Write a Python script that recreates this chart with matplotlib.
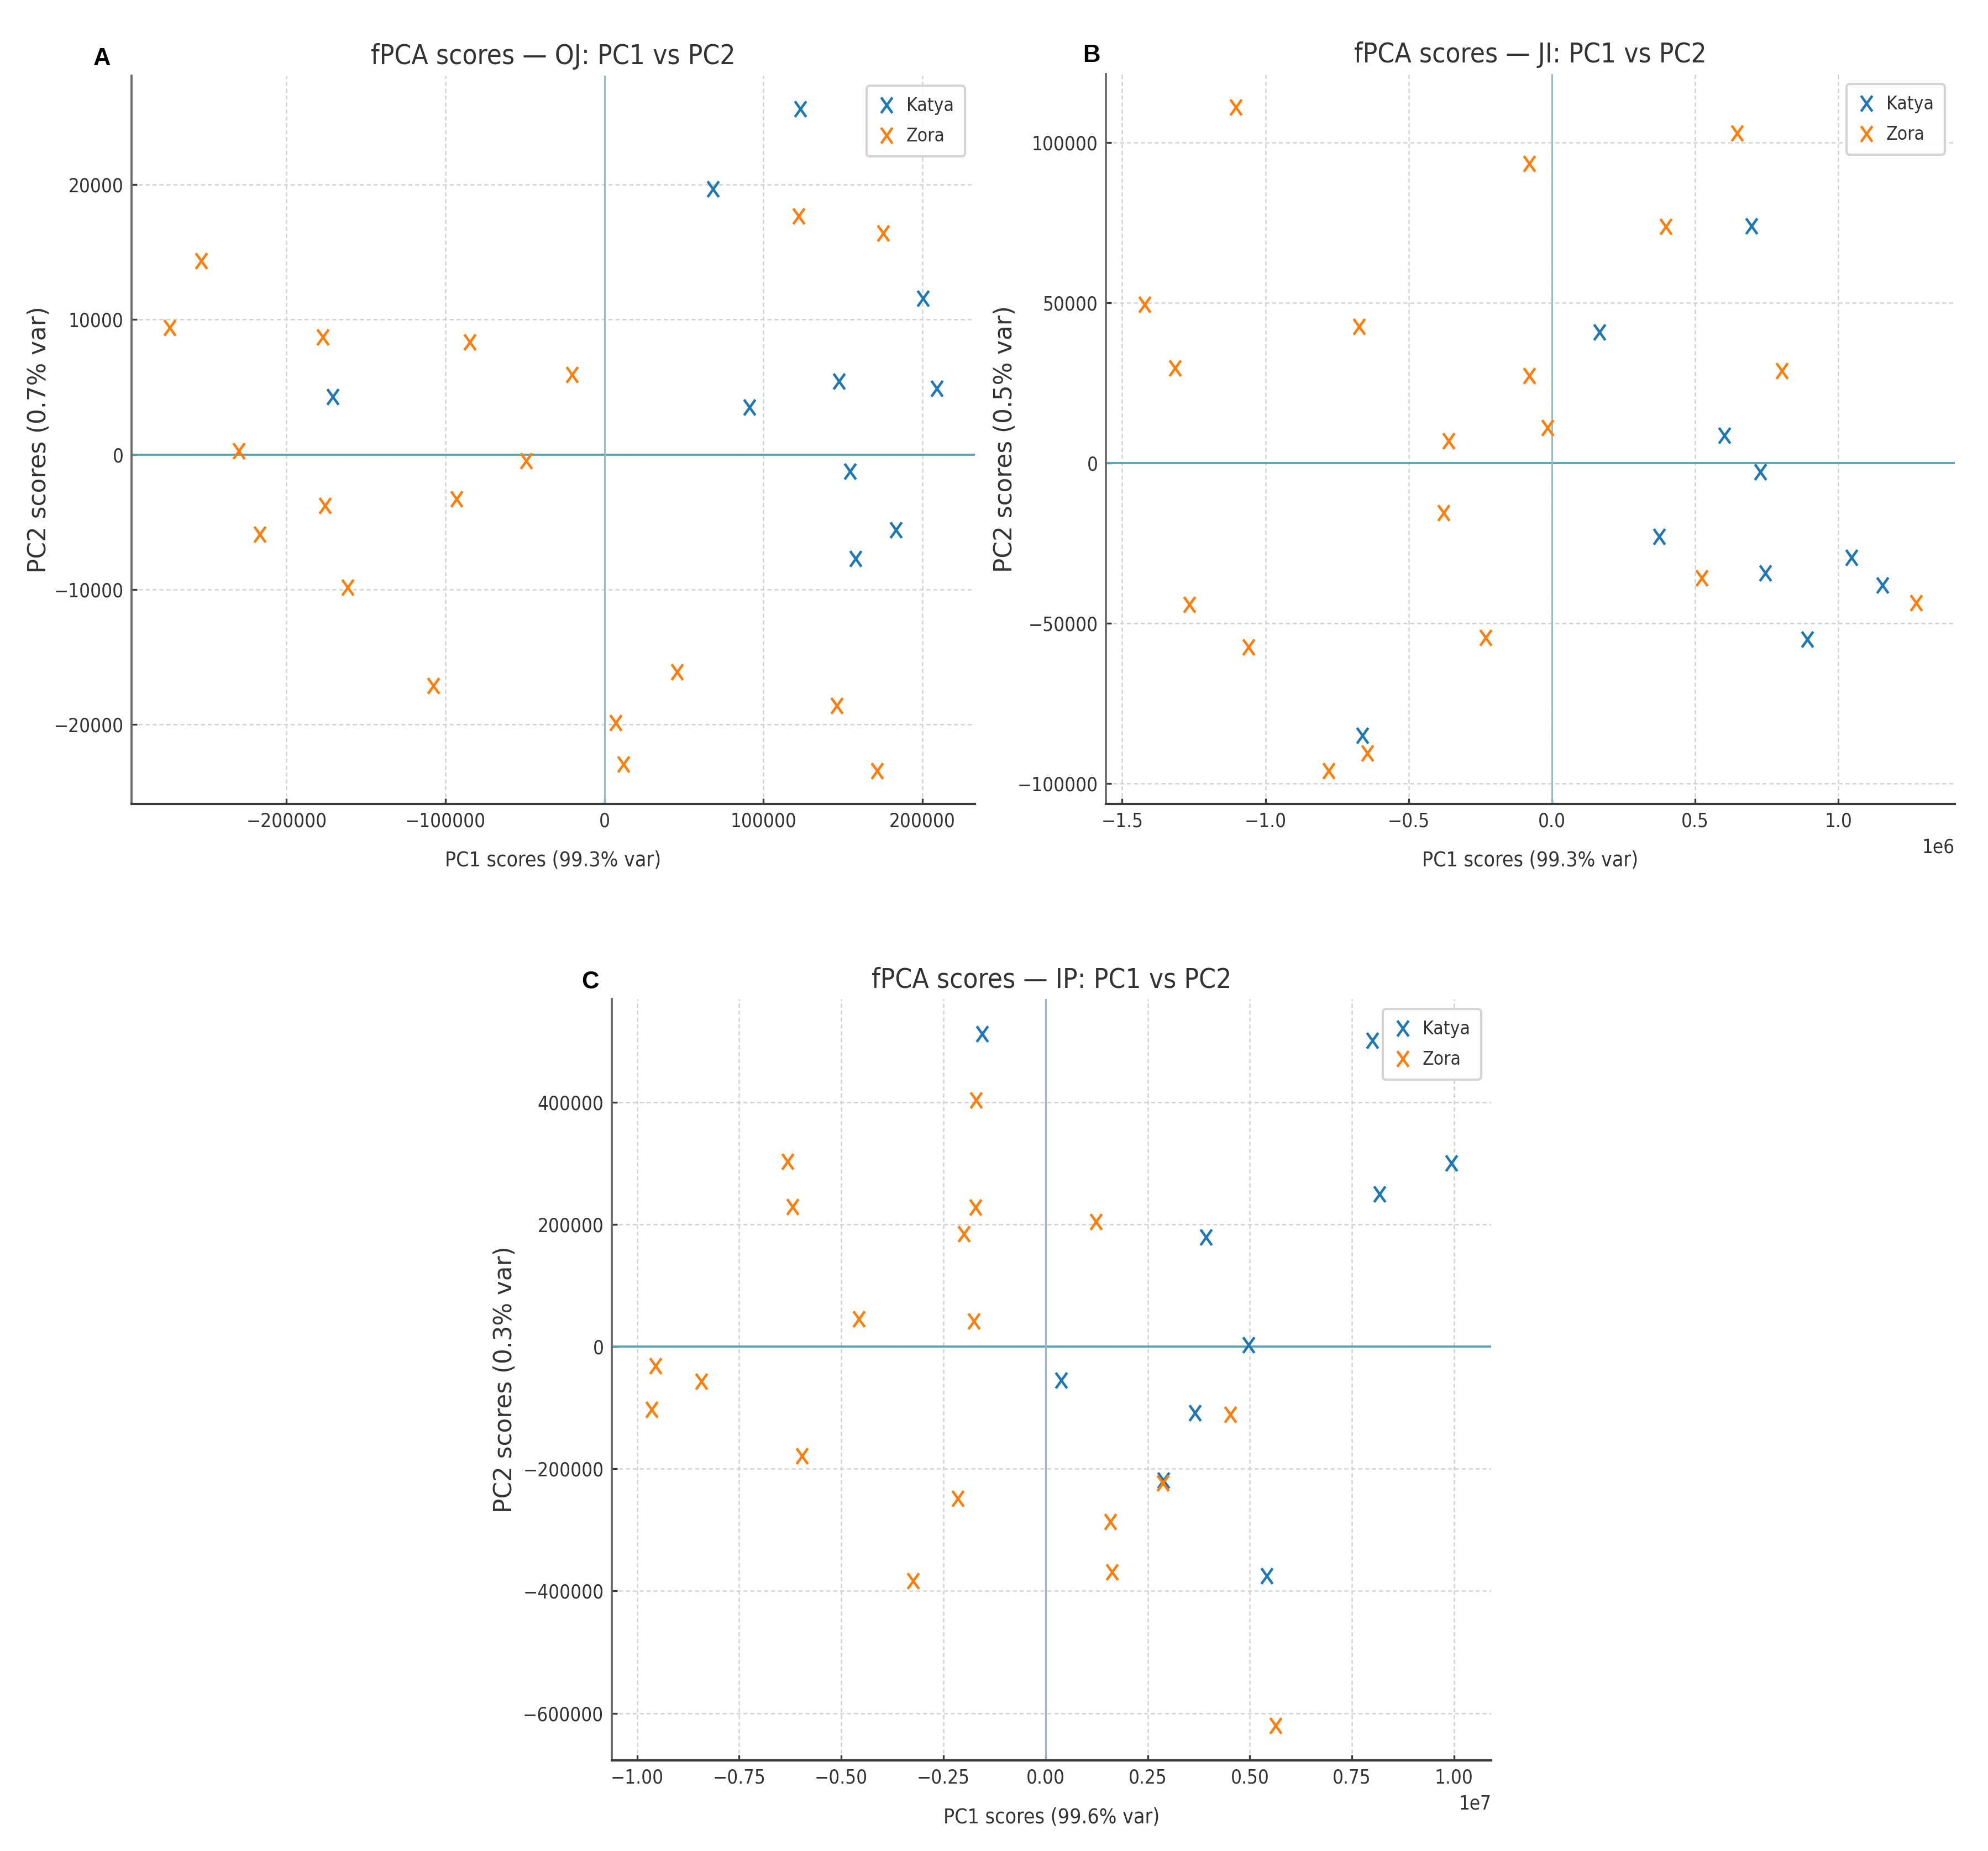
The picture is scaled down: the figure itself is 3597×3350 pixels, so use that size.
import os
import numpy as np
import matplotlib
matplotlib.use("Agg")
import matplotlib.pyplot as plt
from matplotlib.path import Path
from matplotlib import font_manager as fm
from matplotlib.font_manager import FontProperties
from matplotlib.textpath import TextPath

# ---------------- data ----------------
groups = ["Katya", "Zora"]
group_colors = ["#1f77b4", "#ff7f0e"]

# Panel A: OJ
oj_katya_pc1 = [123400, 68300, 200600, -170800, 91250, 147500, 209000, 154400, 183300, 158000]
oj_katya_pc2 = [25600, 19670, 11550, 4270, 3515, 5440, 4900, -1255, -5600, -7700]
oj_zora_pc1 = [-253700, -273400, -177300, -84800, -20500, -229900, -49400, -175700, -92900,
               -216700, -161600, 122200, 175300, -107700, 45800, 146300, 7240, 12060, 171600]
oj_zora_pc2 = [14350, 9410, 8700, 8330, 5900, 250, -460, -3800, -3300,
               -5900, -9830, 17660, 16400, -17110, -16100, -18600, -19870, -22930, -23430]

# Panel B: JI
ji_katya_pc1 = [0.697e6, 0.166e6, 0.602e6, 0.728e6, 0.375e6, 0.744e6, 1.045e6, 1.153e6, 0.892e6, -0.661e6]
ji_katya_pc2 = [74000, 40950, 8600, -2640, -22850, -34270, -29350, -37960, -55000, -84900]
ji_zora_pc1 = [-1.103e6, 0.647e6, -0.079e6, 0.398e6, -1.422e6, -0.674e6, -1.315e6, -0.079e6, 0.802e6,
               -0.016e6, -0.360e6, -0.378e6, 0.524e6, -1.265e6, -1.058e6, -0.231e6, 1.272e6, -0.645e6, -0.780e6]
ji_zora_pc2 = [111070, 103000, 93500, 73800, 49560, 42700, 29700, 27240, 28820,
               11070, 7030, -15470, -35850, -44110, -57290, -54480, -43590, -90510, -95960]

# Panel C: IP
ip_katya_pc1 = [-0.155e7, 0.800e7, 0.993e7, 0.817e7, 0.393e7, 0.497e7, 0.038e7, 0.365e7, 0.289e7, 0.541e7]
ip_katya_pc2 = [512230, 500700, 300240, 249400, 179400, 2880, -54680, -108400, -218700, -375060]
ip_zora_pc1 = [-0.170e7, -0.632e7, -0.619e7, -0.172e7, -0.200e7, 0.124e7, -0.457e7, -0.175e7, -0.955e7,
               -0.842e7, -0.964e7, -0.597e7, -0.215e7, -0.325e7, 0.158e7, 0.163e7, 0.287e7, 0.452e7, 0.563e7]
ip_zora_pc2 = [403800, 303100, 229300, 228300, 184200, 204300, 45080, 41250, -31650,
               -56600, -102640, -179400, -248440, -383690, -286810, -369300, -223500, -111270, -620620]

titles = ["fPCA scores \u2014 OJ: PC1 vs PC2",
          "fPCA scores \u2014 JI: PC1 vs PC2",
          "fPCA scores \u2014 IP: PC1 vs PC2"]
xlabels = ["PC1 scores (99.3% var)", "PC1 scores (99.3% var)", "PC1 scores (99.6% var)"]
ylabels = ["PC2 scores (0.7% var)", "PC2 scores (0.5% var)", "PC2 scores (0.3% var)"]
panel_letters = ["A", "B", "C"]

oj_xticks = [-200000, -100000, 0, 100000, 200000]
oj_yticks = [-20000, -10000, 0, 10000, 20000]
ji_xticks = [-1.5e6, -1.0e6, -0.5e6, 0.0, 0.5e6, 1.0e6]
ji_yticks = [-100000, -50000, 0, 50000, 100000]
ip_xticks = [-1.0e7, -0.75e7, -0.5e7, -0.25e7, 0.0, 0.25e7, 0.5e7, 0.75e7, 1.0e7]
ip_yticks = [-600000, -400000, -200000, 0, 200000, 400000]

panels = [
    dict(k=(oj_katya_pc1, oj_katya_pc2), z=(oj_zora_pc1, oj_zora_pc2), xt=oj_xticks, yt=oj_yticks),
    dict(k=(ji_katya_pc1, ji_katya_pc2), z=(ji_zora_pc1, ji_zora_pc2), xt=ji_xticks, yt=ji_yticks),
    dict(k=(ip_katya_pc1, ip_katya_pc2), z=(ip_zora_pc1, ip_zora_pc2), xt=ip_xticks, yt=ip_yticks),
]

# ---------------- fonts ----------------
W, H = 3597, 3350
DPI = 300


def _weight(f):
    w = f.weight
    if isinstance(w, str):
        return fm.weight_dict.get(w, 400)
    return w


def find_condensed():
    prefs = ["liberationsansnarrow", "dejavusanscondensed", "notosanscondensed",
             "opensanscondensed", "robotocondensed", "lato"]
    cands = []
    for f in fm.fontManager.ttflist:
        base = os.path.basename(f.fname).lower().replace("-", "").replace("_", "")
        nm = (f.name.lower().replace(" ", "") + " " + base)
        if f.style != "normal" or _weight(f) != 400:
            continue
        if "extra" in nm or "ultra" in nm or "semi" in nm:
            continue
        if ("narrow" in nm or "condensed" in nm or f.stretch in ("condensed",)):
            score = len(prefs)
            for i, p in enumerate(prefs):
                if p in nm:
                    score = i
                    break
            cands.append((score, f.fname))
    if cands:
        cands.sort()
        return cands[0][1]
    return None


COND = find_condensed()


def fprops(size):
    if COND:
        return FontProperties(fname=COND, size=size)
    return FontProperties(family=["Liberation Sans", "DejaVu Sans"], size=size)


def fit_size(text, target_px):
    w100 = TextPath((0, 0), text, size=100, prop=fprops(100)).get_extents().width
    return target_px * 72.0 / DPI / (w100 / 100.0)


title_size = fit_size(titles[0], 655)
tick_size = fit_size("200000", 115)
xlabel_size = fit_size(xlabels[0], 385)
legend_size = fit_size("Katya", 80)

text_color = "#333333"

# axes rectangles in pixels (left, top, right, bottom)
rects_px = [(238, 137, 1764, 1455), (2001, 134, 3537, 1455), (1107, 1808, 2698, 3186)]
letter_px = [(185, 106), (1975, 101), (1068, 1778)]
ylabel_center_px = [71, 1819, 914]
xlabel_center_px = [1557, 1557, 3289]

# narrow "x" marker (reference is horizontally condensed)
xmark = Path([(-0.36, -0.5), (0.36, 0.5), (-0.36, 0.5), (0.36, -0.5)],
             [Path.MOVETO, Path.LINETO, Path.MOVETO, Path.LINETO])

fig = plt.figure(figsize=(W / DPI, H / DPI), dpi=DPI)
fig.patch.set_facecolor("white")

for i, p in enumerate(panels):
    l, t, r, b = rects_px[i]
    ax = fig.add_axes([l / W, 1 - b / H, (r - l) / W, (b - t) / H])

    ax.axhline(0, color="#5f9fb4", lw=0.9, zorder=1.5)
    ax.axvline(0, color="#8fbccb", lw=0.7, zorder=1.5)

    for (xs, ys), name, col in zip([p["k"], p["z"]], groups, group_colors):
        ax.plot(xs, ys, linestyle="none", marker=xmark, markersize=6.8,
                markerfacecolor="none", markeredgecolor=col, markeredgewidth=1.1,
                label=name, zorder=3)

    ax.set_xticks(p["xt"])
    ax.set_yticks(p["yt"])
    ax.grid(True, linestyle=(0, (3, 2)), linewidth=0.6, color="#d2d2d2", zorder=0)
    ax.set_axisbelow(True)

    for s in ["top", "right"]:
        ax.spines[s].set_visible(False)
    ax.spines["bottom"].set_color("#3a3a3a")
    ax.spines["bottom"].set_linewidth(1.0)
    ax.spines["left"].set_color("#666666")
    ax.spines["left"].set_linewidth(0.9)

    ax.tick_params(direction="in", length=2.4, width=0.8, colors="#3a3a3a",
                   labelcolor=text_color, pad=3.5)
    for lbl in ax.get_xticklabels() + ax.get_yticklabels():
        lbl.set_fontproperties(fprops(tick_size))
    off = ax.xaxis.get_offset_text()
    off.set_fontproperties(fprops(tick_size))
    off.set_color(text_color)

    ax.set_title(titles[i], fontproperties=fprops(title_size), color=text_color, pad=5)
    ax.set_xlabel(xlabels[i], fontproperties=fprops(xlabel_size), color=text_color)
    ax.xaxis.label.set_verticalalignment("center")
    ax.xaxis.set_label_coords(0.5, (b - xlabel_center_px[i]) / (b - t))

    ax.set_ylabel(ylabels[i], fontsize=10.5, color=text_color, family=["DejaVu Sans"])
    ax.yaxis.label.set_verticalalignment("center")
    ax.yaxis.set_label_coords((ylabel_center_px[i] - l) / (r - l), 0.5)

    leg = ax.legend(loc="upper right", prop=fprops(legend_size), frameon=True, fancybox=True,
                    framealpha=0.9, edgecolor="#d0d0d0", borderpad=0.6,
                    handletextpad=0.55, labelspacing=0.65, handlelength=1.0,
                    borderaxespad=0.55)
    for txt in leg.get_texts():
        txt.set_color(text_color)

    lx, ly = letter_px[i]
    fig.text(lx / W, 1 - ly / H, panel_letters[i], fontsize=10.5, fontweight="bold",
             family=["Liberation Sans", "DejaVu Sans"], ha="center", va="center", color="black")

fig.savefig("out.png", dpi=DPI, facecolor="white")
